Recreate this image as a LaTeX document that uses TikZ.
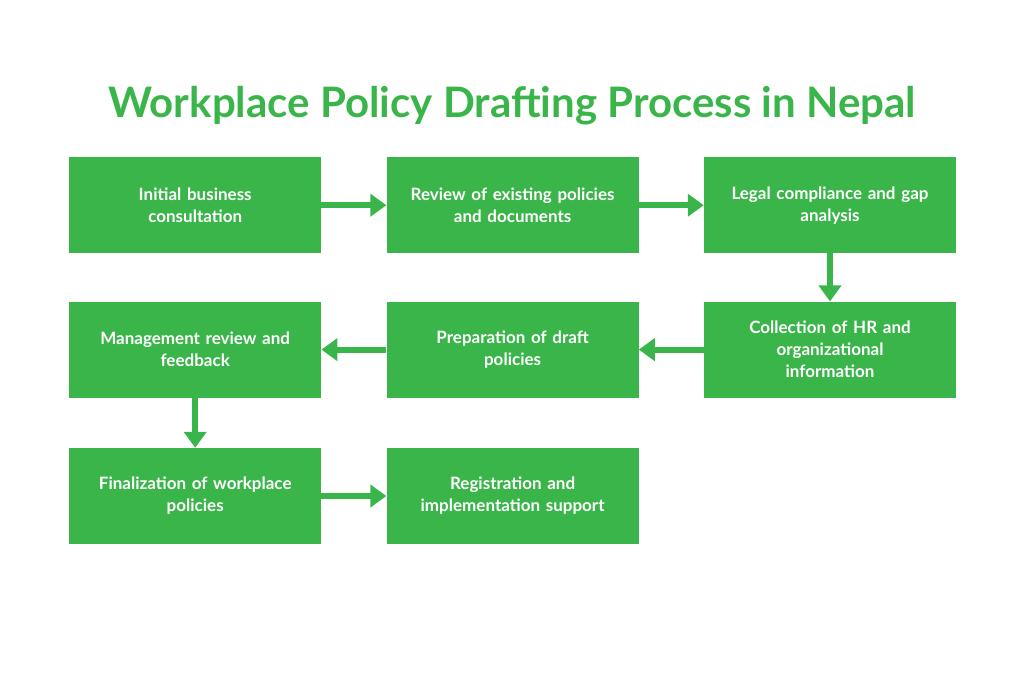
\documentclass[tikz,border=0pt]{standalone}
\usepackage{fontspec}
\setmainfont{Lato}
\usetikzlibrary{positioning,arrows.meta}
\definecolor{policygreen}{HTML}{3AB54A}
\begin{document}
\begin{tikzpicture}
[
    x=1pt, y=-1pt,
    stage/.style={draw=none, fill=policygreen, text=white, font=\bfseries\fontsize{17}{22}\selectfont,
        minimum width=252pt, minimum height=96pt, text width=240pt, align=center, inner sep=0pt},
    flow/.style={draw=policygreen, line width=6pt, -{Triangle[width=22pt,length=16pt]}},
    node distance=48pt and 65pt,
]
\path[use as bounding box] (0,0) rectangle (1024,683);
\node [font=\bfseries\fontsize{42}{50}\selectfont, text=policygreen] (title) at (512,106)
{Workplace Policy Drafting Process in Nepal};
\node [stage, anchor=north west] (consult) at (69,157) {Initial business\\consultation\\[14pt]};
\node [stage, right=of consult] (review) {Review of existing policies\\and documents\\[14pt]};
\node [stage, right=of review] (legal) {Legal compliance and gap\\analysis\\[14pt]};
\node [stage, below=of legal] (collect) {Collection of HR and\\organizational\\information};
\node [stage, left=of collect] (draft) {Preparation of draft\\policies\\[14pt]};
\node [stage, left=of draft] (mgmt) {Management review and\\feedback\\[14pt]};
\node [stage, below=50pt of mgmt] (final) {Finalization of workplace\\policies\\[14pt]};
\node [stage, right=of final] (register) {Registration and\\implementation support\\[14pt]};
% connectors
\draw [flow] (consult) -- (review);
\draw [flow] (review) -- (legal);
\draw [flow] (legal) -- (collect);
\draw [flow] (collect) -- (draft);
\draw [flow] (draft) -- (mgmt);
\draw [flow] (mgmt) -- (final);
\draw [flow] (final) -- (register);
\end{tikzpicture}
\end{document}
